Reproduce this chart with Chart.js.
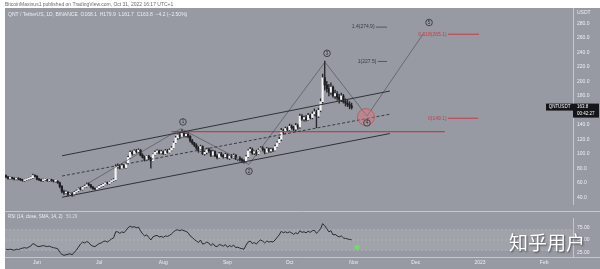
<!DOCTYPE html>
<html>
<head>
<meta charset="utf-8">
<script src="https://cdn.jsdelivr.net/npm/chart.js@4.4.0/dist/chart.umd.min.js"></script>
<style>
html, body { margin: 0; padding: 0; background: #fff; }
#wrap { position: relative; width: 600px; height: 269px; overflow: hidden; }
#priceChart { position: absolute; left: 0; top: 0; }
#rsiChart { position: absolute; left: 0; top: 211px; }
#mark { position: absolute; left: 509px; top: 232px; font: 19px "Noto Sans CJK SC"; line-height: 19px; color: #fff; text-shadow: 1px 1px 2px rgba(0,0,0,.55); }
</style>
</head>
<body>
<div id="wrap">
	<canvas id="priceChart" width="600" height="211" style="width:600px;height:211px"></canvas>
	<canvas id="rsiChart" width="600" height="58" style="width:600px;height:58px"></canvas>
	<div id="mark">知乎用户</div>
</div>
<script>
// day 0 = 1 Jun 2022, first candle is 17 May
var firstDay = -15;

var openP = [
	70,68,66,67,66,65,66,65,64,63,64,65,66,67,70,
	69,65,64,63,64,64,63,64,63,62,62,
	60,55,48,46,47,44,45,
	43,47,49,52,51,54,55,58,57,54,52,51,53,
	55,56,58,60,59,61,63,
	64,
	82,83,80,84,81,
	86,95,102,100,104,103,
	105,98,95,92,97,94,90,
	99,102,104,101,103,100,104,102,105,
	108,115,122,126,124,
	128,125,127,124,118,
	115,112,108,104,110,100,102,106,104,98,
	103,97,95,100,98,96,99,94,97,95,98,93,94,92,
	90,89,
	96,104,106,101,103,100,105,108,106,102,107,
	104,106,105,110,115,
	120,132,130,135,133,138,136,134,139,
	137,152,148,150,147,153,150,
	155,158,152,160,
	172,205,
	195,190,185,192,180,183,178,175,180,172,170,168,166
];
var highP = [
	71,69,68,68,67,67,67,66,65,65,66,67,68,72,71,
	70,66,65,65,66,65,65,65,64,63,63,
	61,56,50,49,48,46,46,
	48,50,53,54,55,57,60,60,58,55,53,54,56,
	58,59,61,61,62,64,66,
	85,
	86,85,86,85,88,
	97,104,104,106,106,107,
	106,100,97,98,98,95,100,
	104,106,105,105,104,106,106,107,110,
	117,124,128,129,133,
	130,129,129,125,120,
	116,114,110,112,111,104,108,108,105,105,
	104,99,102,102,99,101,100,98,99,100,99,95,96,94,
	92,98,
	106,109,108,104,105,107,110,110,107,109,108,
	108,108,112,117,123,
	135,134,137,137,141,140,138,142,141,
	155,154,152,153,156,155,158,
	162,160,163,176,
	210,228,
	200,196,198,194,188,186,182,184,182,176,174,172,170
];
var lowP = [
	67,65,65,65,64,64,64,63,62,62,63,64,65,66,68,
	64,63,62,62,63,62,62,62,61,61,59,
	53,46,44,45,42,43,41,
	42,46,48,50,50,53,54,56,53,51,50,50,52,
	54,55,57,58,58,60,62,
	63,
	80,79,79,80,80,
	85,94,98,99,101,102,
	97,94,90,91,92,80,89,
	98,101,100,100,99,99,101,101,104,
	107,114,120,121,123,
	123,123,122,116,113,
	110,106,102,103,99,98,100,102,96,97,
	96,93,94,96,94,95,93,92,94,94,92,91,90,88,
	87,88,
	95,102,99,99,98,99,104,104,100,101,102,
	102,103,104,109,114,
	118,127,128,131,131,134,132,132,134,
	135,146,145,145,146,148,148,
	153,136,150,158,
	170,188,
	185,180,182,178,176,174,170,172,170,166,165,162,161.7
];
var closeP = [
	68,66,67,66,65,66,65,64,63,64,65,66,67,70,69,
	65,64,63,64,64,63,64,63,62,62,60,
	55,48,46,47,44,45,43,
	47,49,52,51,54,55,58,57,54,52,51,53,55,
	56,58,60,59,61,63,64,
	82,
	83,80,84,81,86,
	95,102,100,104,103,105,
	98,95,92,97,94,90,99,
	102,104,101,103,100,104,102,105,108,
	115,122,126,124,128,
	125,127,124,118,115,
	112,108,104,110,100,102,106,104,98,103,
	97,95,100,98,96,99,94,97,95,98,93,94,92,90,
	89,96,
	104,106,101,103,100,105,108,106,102,107,104,
	106,105,110,115,120,
	132,130,135,133,138,136,134,139,137,
	152,148,150,147,153,150,155,
	158,152,160,172,
	205,195,
	190,185,192,180,183,178,175,180,172,170,168,166,163.8
];
var rsiVal = [
	32,31,32,31,30,32,31,33,34,35,34,36,38,43,41,
	38,37,38,39,38,37,38,36,35,34,33,
	26,22,20,21,22,23,21,
	26,30,36,42,46,44,47,45,40,38,37,40,43,
	44,47,48,46,49,52,54,
	66,
	66,63,66,64,69,
	74,77,75,76,74,75,
	68,62,58,60,55,50,56,
	58,59,56,57,55,58,57,59,62,
	66,69,70,68,70,
	68,67,64,58,55,
	51,48,45,50,42,43,46,44,39,43,
	38,37,41,40,38,41,36,39,37,40,35,36,34,33,
	32,40,
	46,48,43,45,42,47,50,48,44,48,46,
	47,46,50,55,60,
	67,64,66,64,66,64,61,64,62,
	68,65,66,64,67,65,68,
	69,63,67,72,
	82,78,
	72,66,68,60,61,58,56,58,54,53,52,51,50.29
];

var monthDays = [ 0, 30, 61, 92, 122, 153, 183, 214, 245 ];
var monthNames = [ "Jun", "Jul", "Aug", "Sep", "Oct", "Nov", "Dec", "2023", "Feb" ];
var priceTicks = [ 40, 60, 80, 100, 120, 140, 160, 180, 200, 220, 240, 260, 280 ];
var rsiTicks = [ 25, 50, 75 ];

// drawings, as [day, price]
var upperChannel = [ [ 12.1, 97.3 ], [ 170.5, 186.7 ] ];
var midChannel = [ [ 12.1, 69.3 ], [ 170.5, 154.7 ] ];
var lowerChannel = [ [ 12.1, 40 ], [ 170.5, 128 ] ];
var wavePath = [ [ 14, 41.3 ], [ 69.6, 134.7 ], [ 102.4, 85.3 ], [ 139.1, 226.7 ], [ 159.4, 152 ], [ 186.5, 265.3 ] ];
var redLevel = [ [ 65, 130.5 ], [ 197, 130.5 ] ];
var waveMarks = [ [ "1", 70.5, 144 ], [ "2", 102.4, 76 ], [ "3", 140.1, 238.7 ], [ "4", 159.4, 142.7 ], [ "5", 189.4, 281.3 ] ];
var fibLevels = [
	{ text: "1.4(274.9)", v: 274.9, d0: 163.8, d1: 169.1, red: false },
	{ text: "1(227.5)", v: 227.5, d0: 164.7, d1: 169.1, red: false },
	{ text: "0.618(265.1)", v: 265.1, d0: 198.6, d1: 213.5, red: true },
	{ text: "0(149.1)", v: 149.1, d0: 198.6, d1: 213.1, red: true }
];
var targetZone = [ 158.9, 150.7 ];
var rsiMark = [ 154.6, 36 ];

var bg = "#979aa2";
var textLight = "#eceef1";
var redCol = "#c73b4c";
var family = "'Liberation Sans', Arial, sans-serif";
var xMin = ( 5 - 37 ) / 2.07;
var xMax = ( 573 - 37 ) / 2.07;

var days = closeP.map( function( c, i ) { return firstDay + i; } );

function lineSet( pts, color, width, dash ) {
	return {
		type: "line",
		order: 0,
		data: pts.map( function( p ) { return { x: p[0], y: p[1] }; } ),
		borderColor: color,
		borderWidth: width,
		borderDash: dash,
		pointRadius: 0,
		fill: false,
		tension: 0
	};
}

function backdrop( top ) {
	return {
		id: "backdrop",
		beforeDraw: function( chart ) {
			var c = chart.ctx;
			c.save();
			c.fillStyle = "#fff";
			c.fillRect( 0, 0, chart.width, chart.height );
			c.fillStyle = bg;
			c.fillRect( 5, top, chart.width - 5, chart.height - top );
			c.restore();
		}
	};
}

var priceOverlay = {
	id: "priceOverlay",
	afterDraw: function( chart ) {
		var c = chart.ctx;
		var xs = chart.scales.x;
		var ys = chart.scales.y;
		c.save();
		c.textBaseline = "middle";

		// header and legend
		c.font = "5px " + family;
		c.fillStyle = "#6b6b6b";
		c.fillText( "BitcoinMaxinus1 published on TradingView.com, Oct 31, 2022 16:17 UTC+1", 5, 4.5 );
		c.fillStyle = textLight;
		c.fillText( "QNT / TetherUS, 1D, BINANCE  O168.1  H179.9  L161.7  C163.8  \u22124.2 (\u22122.50%)", 8, 15 );
		c.fillText( "USDT", 577, 13 );

		// fib labels
		fibLevels.forEach( function( f ) {
			c.fillStyle = f.red ? redCol : "#3a3b40";
			c.textAlign = "right";
			c.fillText( f.text, xs.getPixelForValue( f.d0 ) - 1.5, ys.getPixelForValue( f.v ) );
		} );
		c.textAlign = "left";

		// target zone around wave 4
		c.beginPath();
		c.arc( xs.getPixelForValue( targetZone[0] ), ys.getPixelForValue( targetZone[1] ), 8.5, 0, Math.PI * 2 );
		c.fillStyle = "rgba(226,112,122,0.45)";
		c.fill();
		c.strokeStyle = "rgba(200,60,72,0.7)";
		c.lineWidth = 0.8;
		c.stroke();

		// wave numbers
		c.textAlign = "center";
		c.font = "4.5px " + family;
		waveMarks.forEach( function( w ) {
			var px = xs.getPixelForValue( w[1] );
			var py = ys.getPixelForValue( w[2] );
			c.beginPath();
			c.arc( px, py, 3.3, 0, Math.PI * 2 );
			c.fillStyle = "rgba(150,152,160,0.6)";
			c.fill();
			c.strokeStyle = "#2e2f34";
			c.lineWidth = 0.8;
			c.stroke();
			c.fillStyle = "#2e2f34";
			c.fillText( w[0], px, py + 0.3 );
		} );

		// last price tags
		var ty = ys.getPixelForValue( closeP[ closeP.length - 1 ] );
		c.fillStyle = "#15161a";
		c.fillRect( 546, ty - 4, 27, 7 );
		c.fillRect( 573, ty - 4, 26, 14 );
		c.fillStyle = "#fff";
		c.font = "4.5px " + family;
		c.fillText( "QNTUSDT", 559.5, ty - 0.5 );
		c.textAlign = "left";
		c.fillText( "163.8", 577, ty - 0.5 );
		c.fillText( "00:42:27", 577, ty + 6 );
		c.restore();
	}
};

var priceSets = [
	lineSet( upperChannel, "#303238", 1, [] ),
	lineSet( midChannel, "#303238", 0.9, [ 3, 2 ] ),
	lineSet( lowerChannel, "#303238", 1, [] ),
	lineSet( wavePath, "rgba(60,62,68,0.75)", 0.7, [] ),
	lineSet( redLevel, redCol, 1.3, [] )
];
fibLevels.forEach( function( f ) {
	priceSets.push( lineSet( [ [ f.d0, f.v ], [ f.d1, f.v ] ], f.red ? redCol : "#55575d", 1, [] ) );
} );
priceSets.push( {
	type: "bar",
	order: 1,
	data: days.map( function( d, i ) { return { x: d, y: [ openP[i], closeP[i] ] }; } ),
	backgroundColor: closeP.map( function( c, i ) { return c >= openP[i] ? "#f2f3f5" : "#1d1e22"; } ),
	barThickness: 1.6,
	grouped: false,
	minBarLength: 1
} );
priceSets.push( {
	type: "bar",
	order: 2,
	data: days.map( function( d, i ) { return { x: d, y: [ lowP[i], highP[i] ] }; } ),
	backgroundColor: "#26272b",
	barThickness: 0.7,
	grouped: false
} );

new Chart( document.getElementById( "priceChart" ), {
	type: "bar",
	data: { datasets: priceSets },
	options: {
		responsive: false,
		animation: false,
		layout: { padding: { left: 5, top: 8, right: 0, bottom: 0 } },
		plugins: { legend: { display: false }, tooltip: { enabled: false } },
		scales: {
			x: { type: "linear", min: xMin, max: xMax, display: false, offset: false },
			y: {
				position: "right",
				min: 30.7,
				max: 301.3,
				afterFit: function( s ) { s.width = 27; },
				afterBuildTicks: function( s ) { s.ticks = priceTicks.map( function( v ) { return { value: v }; } ); },
				ticks: {
					autoSkip: false,
					callback: function( v ) { return v.toFixed( 1 ); },
					color: textLight,
					font: { size: 5, family: family },
					padding: 4
				},
				grid: { display: false, drawTicks: false },
				border: { display: true, color: "#c5c7cc", width: 1 }
			}
		}
	},
	plugins: [ backdrop( 8 ), priceOverlay ]
} );

var rsiOverlay = {
	id: "rsiOverlay",
	beforeDatasetsDraw: function( chart ) {
		var c = chart.ctx;
		var a = chart.chartArea;
		var ys = chart.scales.y;
		c.save();
		var y70 = ys.getPixelForValue( 70 );
		var y30 = ys.getPixelForValue( 30 );
		c.fillStyle = "rgba(255,255,255,0.09)";
		c.fillRect( a.left, y70, a.right - a.left, y30 - y70 );
		c.strokeStyle = "rgba(235,236,240,0.35)";
		c.lineWidth = 0.7;
		c.setLineDash( [ 2, 2 ] );
		[ 70, 50, 30 ].forEach( function( v ) {
			var y = ys.getPixelForValue( v );
			c.beginPath();
			c.moveTo( a.left, y );
			c.lineTo( a.right, y );
			c.stroke();
		} );
		c.setLineDash( [] );
		c.restore();
	},
	afterDraw: function( chart ) {
		var c = chart.ctx;
		c.save();
		c.strokeStyle = "#c5c7cc";
		c.lineWidth = 1;
		c.beginPath();
		c.moveTo( 5, 0.5 );
		c.lineTo( 600, 0.5 );
		c.moveTo( 5, 46.5 );
		c.lineTo( 600, 46.5 );
		c.stroke();
		c.font = "4.5px " + family;
		c.textBaseline = "middle";
		c.fillStyle = textLight;
		c.fillText( "RSI (14, close, SMA, 14, 2)", 8, 5.5 );
		c.fillStyle = "#d9dade";
		c.fillText( "50.29", 66, 5.5 );
		c.restore();
	}
};

new Chart( document.getElementById( "rsiChart" ), {
	type: "line",
	data: {
		datasets: [
			{
				data: days.map( function( d, i ) { return { x: d, y: rsiVal[i] }; } ),
				borderColor: "#2b2c31",
				borderWidth: 1,
				pointRadius: 0,
				tension: 0
			},
			{
				data: [ { x: rsiMark[0], y: rsiMark[1] } ],
				showLine: false,
				pointRadius: 2.6,
				pointBackgroundColor: "#6edb6a",
				pointBorderWidth: 0
			}
		]
	},
	options: {
		responsive: false,
		animation: false,
		layout: { padding: { left: 5, top: 0, right: 0, bottom: 0 } },
		plugins: { legend: { display: false }, tooltip: { enabled: false } },
		scales: {
			x: {
				type: "linear",
				min: xMin,
				max: xMax,
				offset: false,
				afterFit: function( s ) { s.height = 12; },
				afterBuildTicks: function( s ) { s.ticks = monthDays.map( function( v ) { return { value: v }; } ); },
				ticks: {
					autoSkip: false,
					maxRotation: 0,
					callback: function( v, i ) { return monthNames[i]; },
					color: textLight,
					font: { size: 5, family: family },
					padding: 3
				},
				grid: { display: false, drawTicks: false },
				border: { display: false }
			},
			y: {
				position: "right",
				min: 16.7,
				max: 93,
				afterFit: function( s ) { s.width = 27; },
				afterBuildTicks: function( s ) { s.ticks = rsiTicks.map( function( v ) { return { value: v }; } ); },
				ticks: {
					autoSkip: false,
					callback: function( v ) { return v.toFixed( 2 ); },
					color: textLight,
					font: { size: 5, family: family },
					padding: 4
				},
				grid: { display: false, drawTicks: false },
				border: { display: true, color: "#c5c7cc", width: 1 }
			}
		}
	},
	plugins: [ backdrop( 0 ), rsiOverlay ]
} );
</script>
</body>
</html>
